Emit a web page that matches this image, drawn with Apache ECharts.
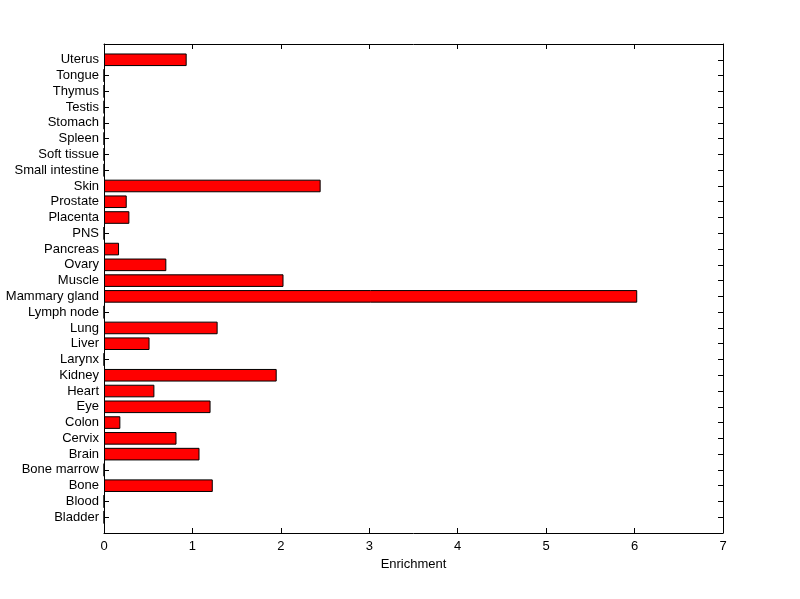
<!DOCTYPE html>
<html><head><meta charset="utf-8">
<script src="https://cdn.jsdelivr.net/npm/echarts@6/dist/echarts.min.js"></script>
<style>html,body{margin:0;padding:0;background:#fff}#c{width:800px;height:599px}</style>
</head><body><div id="c"></div>
<script>
const categories = ["Bladder","Blood","Bone","Bone marrow","Brain","Cervix","Colon","Eye","Heart","Kidney","Larynx","Liver","Lung","Lymph node","Mammary gland","Muscle","Ovary","Pancreas","PNS","Placenta","Prostate","Skin","Small intestine","Soft tissue","Spleen","Stomach","Testis","Thymus","Tongue","Uterus"];
const enrichment = [0,0,1.23,0,1.08,0.82,0.185,1.205,0.57,1.953,0,0.515,1.285,0,6.03,2.03,0.705,0.17,0,0.287,0.257,2.45,0,0,0,0,0,0,0,0.935];
const xTicks = [0,1,2,3,4,5,6,7];

// MATLAB-style axis: one empty slot of padding at each end of the category axis
const axisCats = [''].concat(categories, ['']);
const axisVals = [null].concat(enrichment, [null]);

const font = {fontFamily:'Liberation Sans, Arial, sans-serif', fontSize:13, color:'#000'};
const line = {show:true,onZero:false,lineStyle:{color:'#000',width:1}};
const tick = {show:true,inside:true,length:5,interval:0,lineStyle:{color:'#000'}};
const chart = echarts.init(document.getElementById('c'));
chart.setOption({
  backgroundColor:'#fff',
  animation:false,
  grid:{left:104,right:77,top:44,bottom:66,containLabel:false},
  xAxis:[{
    type:'value', min:xTicks[0], max:xTicks[xTicks.length-1], interval:1,
    name:'Enrichment', nameLocation:'middle', nameGap:22, nameTextStyle:font,
    axisLine:line, axisTick:tick,
    axisLabel:Object.assign({margin:7},font),
    splitLine:{show:false}
  },{
    type:'value', position:'top', min:xTicks[0], max:xTicks[xTicks.length-1], interval:1,
    axisLine:line, axisTick:tick,
    axisLabel:{show:false}, splitLine:{show:false}
  }],
  yAxis:[{
    type:'category', data:axisCats, boundaryGap:false,
    axisLine:line, axisTick:tick,
    axisLabel:Object.assign({margin:5,interval:0},font),
    splitLine:{show:false}
  },{
    type:'category', data:axisCats, position:'right', boundaryGap:false,
    axisLine:line, axisTick:tick,
    axisLabel:{show:false}, splitLine:{show:false}
  }],
  series:[{
    type:'bar', data:axisVals, xAxisIndex:0, yAxisIndex:0,
    barWidth:12.6,
    itemStyle:{color:'#ff0000',borderColor:'#000',borderWidth:1}
  }]
});
</script></body></html>
